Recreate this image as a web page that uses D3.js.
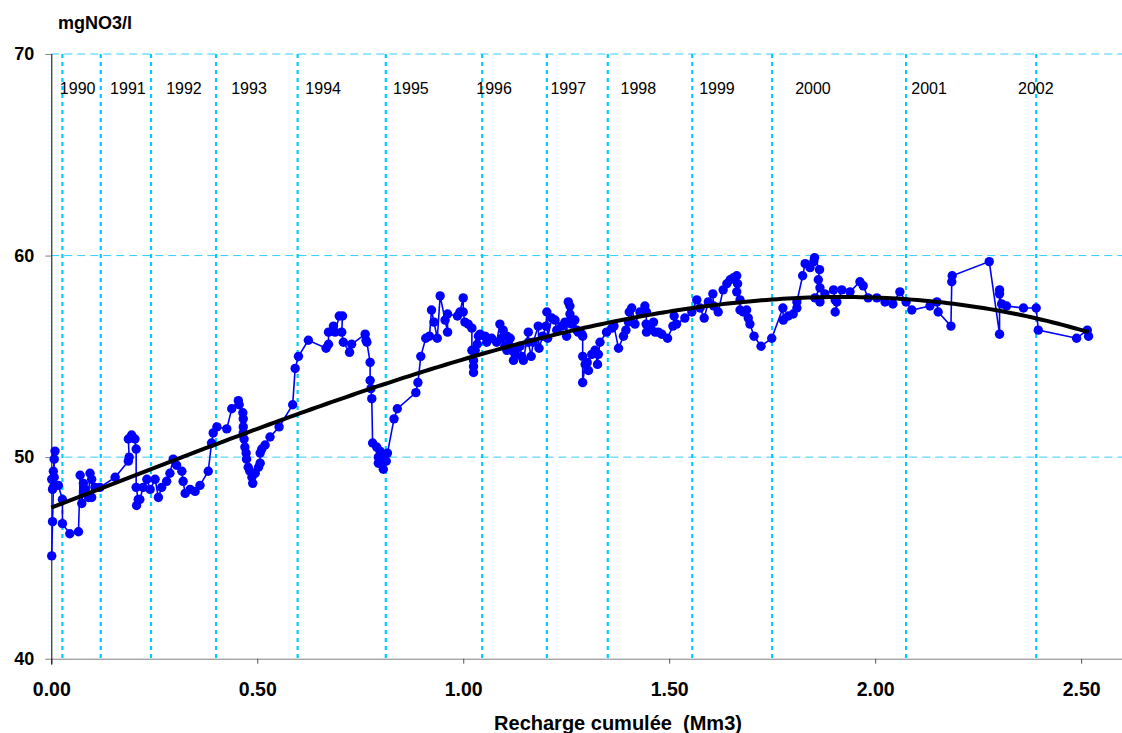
<!DOCTYPE html>
<html>
<head>
<meta charset="UTF-8">
<title>Nitrates - recharge cumulée</title>
<style>
  body { margin: 0; background: #fff; }
  text { font-family: Arial, "Liberation Sans", sans-serif; }
</style>
</head>
<body>
<script src="https://d3js.org/d3.v7.min.js"></script>
<script>
// recharge cumulée (Mm3) and nitrate (mgNO3/l), in time order
var recharge = [0.001,0.003,0.005,0.001,0.007,0.005,0.007,0.009,0.003,0.017,0.027,0.027,0.045,0.066,0.070,0.074,0.078,0.082,0.090,0.094,
  0.098,0.098,0.106,0.118,0.155,0.187,0.189,0.187,0.195,0.203,0.206,0.206,0.211,0.207,0.215,0.223,0.232,0.240,0.252,0.260,
  0.268,0.280,0.288,0.296,0.304,0.317,0.320,0.325,0.337,0.349,0.361,0.381,0.389,0.393,0.402,0.426,0.438,0.454,0.456,0.465,
  0.466,0.466,0.466,0.468,0.470,0.473,0.474,0.478,0.482,0.487,0.489,0.495,0.503,0.507,0.507,0.511,0.519,0.531,0.553,0.586,
  0.592,0.600,0.624,0.667,0.673,0.673,0.685,0.689,0.699,0.707,0.705,0.709,0.724,0.729,0.762,0.764,0.766,0.774,0.774,0.776,
  0.778,0.780,0.790,0.798,0.794,0.802,0.794,0.806,0.813,0.816,0.832,0.840,0.885,0.890,0.897,0.909,0.918,0.923,0.929,0.937,
  0.944,0.956,0.962,0.962,0.986,0.992,1.000,1.000,1.004,1.012,1.021,1.021,1.025,1.025,1.025,1.029,1.034,1.037,1.041,1.053,
  1.057,1.069,1.081,1.089,1.097,1.093,1.106,1.114,1.110,1.101,1.106,1.118,1.122,1.126,1.130,1.138,1.142,1.146,1.158,1.158,
  1.165,1.170,1.182,1.184,1.193,1.201,1.203,1.205,1.215,1.223,1.227,1.239,1.247,1.251,1.255,1.259,1.259,1.255,1.263,1.271,
  1.276,1.279,1.288,1.290,1.290,1.290,1.296,1.304,1.301,1.312,1.320,1.326,1.328,1.332,1.348,1.361,1.366,1.377,1.389,1.395,
  1.401,1.403,1.409,1.417,1.429,1.441,1.445,1.444,1.445,1.453,1.462,1.466,1.474,1.482,1.496,1.509,1.512,1.518,1.538,1.555,
  1.567,1.575,1.585,1.595,1.606,1.608,1.619,1.631,1.640,1.648,1.656,1.664,1.666,1.664,1.672,1.672,1.680,1.688,1.692,1.696,
  1.706,1.723,1.749,1.776,1.777,1.789,1.801,1.810,1.810,1.824,1.830,1.842,1.851,1.853,1.865,1.862,1.866,1.854,1.866,1.878,
  1.899,1.903,1.907,1.903,1.919,1.939,1.963,1.971,1.983,2.004,2.024,2.043,2.060,2.075,2.089,2.133,2.150,2.153,2.184,2.186,
  2.187,2.277,2.302,2.302,2.302,2.307,2.319,2.360,2.391,2.396,2.489,2.515,2.518];
var nitrate = [45.1,46.8,48.5,48.9,49.0,49.3,49.9,50.3,48.4,48.6,47.9,46.7,46.2,46.3,49.1,47.7,48.7,48.4,48.0,49.2,
  48.9,48.0,48.5,48.5,49.0,49.8,50.0,50.9,51.1,50.9,50.4,48.5,47.9,47.6,47.9,48.5,48.9,48.4,48.9,48.0,
  48.5,48.8,49.2,49.9,49.6,49.3,48.8,48.2,48.4,48.3,48.6,49.3,50.7,51.2,51.5,51.4,52.4,52.8,52.6,52.2,
  51.9,51.5,51.2,50.9,50.5,50.2,49.9,49.5,49.3,49.0,48.7,49.2,49.5,49.7,50.2,50.4,50.6,51.0,51.5,52.6,
  54.4,55.0,55.8,55.4,55.6,56.2,56.5,56.2,57.0,57.0,56.2,55.7,55.2,55.6,56.1,55.8,55.7,54.7,53.8,53.4,
  52.9,50.7,50.5,50.3,50.0,49.9,49.7,49.4,49.8,50.2,51.9,52.4,53.2,53.7,55.0,55.9,56.0,57.3,56.7,55.9,
  58.0,56.8,56.2,57.1,57.0,57.2,57.9,57.2,56.7,56.6,56.4,55.3,54.8,54.5,54.2,55.3,55.6,56.0,56.1,56.0,
  55.7,55.9,55.7,56.6,56.3,55.9,56.0,55.9,55.6,55.5,55.3,55.3,54.8,55.1,55.4,55.5,55.0,54.8,56.2,55.7,
  55.0,55.7,56.5,55.4,56.0,56.5,57.2,55.9,56.9,56.8,56.3,56.5,56.7,56.0,57.7,57.5,57.1,56.7,56.6,56.8,
  56.3,56.2,56.1,56.0,55.0,53.7,54.6,54.3,54.7,55.1,55.3,54.6,55.1,55.7,56.2,56.4,56.5,55.4,56.0,56.3,
  56.7,57.2,57.4,56.6,57.2,57.5,57.2,56.6,56.2,56.5,56.7,56.2,56.2,56.1,55.9,56.5,57.0,56.6,56.9,57.2,
  57.8,57.4,56.9,57.7,58.1,57.5,57.2,58.3,58.6,58.8,58.9,59.0,58.6,58.2,57.8,57.3,57.2,57.3,56.9,56.6,
  56.0,55.5,55.9,57.4,56.8,57.0,57.1,57.4,57.7,59.0,59.6,59.4,59.7,59.9,59.3,58.8,58.4,57.9,57.7,58.1,
  58.3,57.8,57.7,57.2,58.3,58.2,58.7,58.5,57.9,57.9,57.7,57.6,58.2,57.7,57.3,57.5,57.7,57.2,56.5,58.7,
  59.0,59.7,56.1,58.3,58.1,57.6,57.5,57.4,57.4,56.3,55.9,56.3,56.0];

// year separators (recharge at 1st january) and label positions
var years = ["1990","1991","1992","1993","1994","1995","1996","1997","1998","1999","2000","2001","2002"];
var yearStart = [0.027,0.120,0.242,0.400,0.598,0.812,1.046,1.203,1.351,1.556,1.750,2.075,2.391];
var yearLabelAt = [0.064,0.186,0.322,0.480,0.660,0.873,1.075,1.255,1.425,1.616,1.849,2.131,2.390];

// polynomial trend (order 3) coefficients, constant term first
var trendCoef = [47.5, 7.85, 0.319, -0.82];

var xTicks = [0, 0.5, 1, 1.5, 2, 2.5];
var yTicks = [40, 50, 60, 70];

var width = 1122, height = 733;
var svg = d3.select("body").append("svg")
    .attr("width", width)
    .attr("height", height);

var x = d3.scaleLinear().domain([0, 2.6]).range([51.3, 1122.3]);
var y = d3.scaleLinear().domain([40, 70]).range([658.7, 54]);

// horizontal dashed grid
svg.selectAll(".hgrid")
    .data(yTicks.filter(function(d){ return d > 40; }))
    .enter().append("line")
    .attr("x1", x(0)).attr("x2", width)
    .attr("y1", function(d){ return y(d); })
    .attr("y2", function(d){ return y(d); })
    .attr("stroke", "#33ccff")
    .attr("stroke-width", 1)
    .attr("stroke-dasharray", "8,5");

// year lines
svg.selectAll(".year")
    .data(yearStart)
    .enter().append("line")
    .attr("x1", function(d){ return x(d); })
    .attr("x2", function(d){ return x(d); })
    .attr("y1", y(70)).attr("y2", y(40))
    .attr("stroke", "#00ccff")
    .attr("stroke-width", 2.2)
    .attr("stroke-dasharray", "4,4");

svg.selectAll(".ylab")
    .data(years)
    .enter().append("text")
    .attr("x", function(d, i){ return x(yearLabelAt[i]); })
    .attr("y", 94)
    .attr("text-anchor", "middle")
    .attr("font-size", 16)
    .attr("fill", "#000")
    .text(function(d){ return d; });

// axes
var xAxis = d3.axisBottom(x).tickValues(xTicks).tickSize(5).tickFormat(d3.format(".2f"));
var gx = svg.append("g")
    .attr("transform", "translate(0," + y(40) + ")")
    .call(xAxis);
gx.select(".domain").attr("stroke", "#808080").attr("d", "M" + x(0) + ",0.5H" + width);
gx.selectAll(".tick line").attr("stroke", "#555");
gx.selectAll(".tick text")
    .attr("font-family", "Arial, 'Liberation Sans', sans-serif")
    .attr("font-size", 19.5).attr("font-weight", "bold").attr("fill", "#000")
    .attr("y", 23).attr("dy", "0.71em");

var yAxis = d3.axisLeft(y).tickValues(yTicks).tickSize(6).tickPadding(11).tickFormat(d3.format("d"));
var gy = svg.append("g")
    .attr("transform", "translate(" + x(0) + ",0)")
    .call(yAxis);
gy.select(".domain").attr("stroke", "#000").attr("d", "M0.5," + y(70) + "V" + (y(40) + 6));
gy.selectAll(".tick line").attr("stroke", "#808080");
gy.selectAll(".tick text")
    .attr("font-family", "Arial, 'Liberation Sans', sans-serif")
    .attr("font-size", 18).attr("font-weight", "bold").attr("fill", "#000");

// series
var pts = recharge.map(function(d, i){ return [d, nitrate[i]]; });
var line = d3.line()
    .x(function(d){ return x(d[0]); })
    .y(function(d){ return y(d[1]); });

svg.append("path")
    .datum(pts)
    .attr("d", line)
    .attr("fill", "none")
    .attr("stroke", "#0000ff")
    .attr("stroke-width", 1.6);

svg.selectAll(".pt")
    .data(pts)
    .enter().append("circle")
    .attr("cx", function(d){ return x(d[0]); })
    .attr("cy", function(d){ return y(d[1]); })
    .attr("r", 4.7)
    .attr("fill", "#0000ff");

// trend curve
var xmax = d3.max(recharge);
var trend = d3.range(0, 201).map(function(i){
    var t = xmax * i / 200;
    var v = trendCoef.reduce(function(s, c, k){ return s + c * Math.pow(t, k); }, 0);
    return [t, v];
});
svg.append("path")
    .datum(trend)
    .attr("d", line)
    .attr("fill", "none")
    .attr("stroke", "#000")
    .attr("stroke-width", 4);

// titles
svg.append("text")
    .attr("x", 58).attr("y", 29)
    .attr("font-size", 18).attr("font-weight", "bold")
    .text("mgNO3/l");

svg.append("text")
    .attr("x", 618).attr("y", 730)
    .attr("text-anchor", "middle")
    .attr("font-size", 20).attr("font-weight", "bold")
    .attr("xml:space", "preserve")
    .style("white-space", "pre")
    .text("Recharge cumulée  (Mm3)");
</script>
</body>
</html>
